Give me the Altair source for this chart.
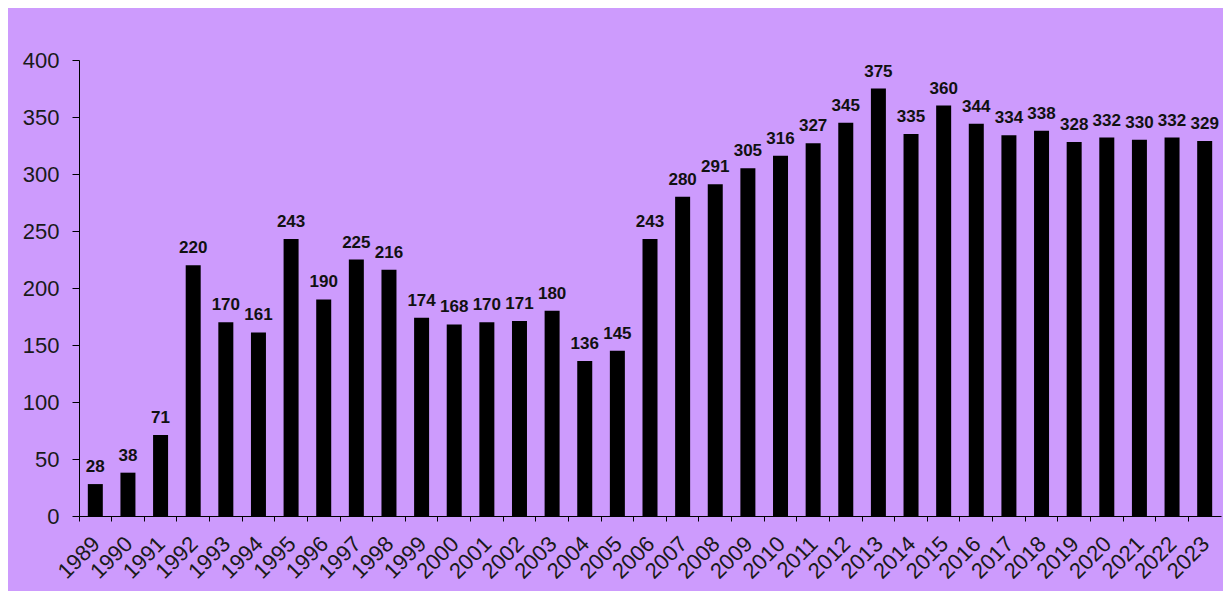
import altair as alt
import pandas as pd

years = [str(y) for y in range(1989, 2024)]
values = [28, 38, 71, 220, 170, 161, 243, 190, 225, 216, 174, 168, 170, 171, 180,
          136, 145, 243, 280, 291, 305, 316, 327, 345, 375, 335, 360, 344, 334, 338,
          328, 332, 330, 332, 329]
y_ticks = [0, 50, 100, 150, 200, 250, 300, 350, 400]

df = pd.DataFrame({"year": years, "value": values})

FONT = "Liberation Sans"

x = alt.X(
    "year:N",
    sort=years,
    title=None,
    scale=alt.Scale(paddingInner=0, paddingOuter=0),
    axis=alt.Axis(
        labelAngle=-45,
        labelFontSize=22,
        labelFont=FONT,
        labelColor="#1a1a1a",
        bandPosition=0,
        labelOffset=1,
        labelPadding=19,
        tickSize=5,
        tickColor="#000000",
        domainColor="#000000",
        labelAlign="right",
        labelBaseline="middle",
    ),
)

bars = alt.Chart(df).mark_bar(size=15, color="#000000").encode(
    x=x,
    y=alt.Y(
        "value:Q",
        title=None,
        scale=alt.Scale(domain=[0, 400], nice=False),
        axis=alt.Axis(
            values=y_ticks,
            grid=False,
            labelFontSize=22,
            labelFont=FONT,
            labelColor="#1a1a1a",
            tickSize=7,
            tickColor="#000000",
            domainColor="#000000",
            labelPadding=13,
        ),
    ),
)

labels = alt.Chart(df).mark_text(
    font=FONT,
    fontSize=17,
    fontWeight="bold",
    color="#111111",
    baseline="alphabetic",
    dy=-12,
).encode(
    x=alt.X("year:N", sort=years),
    y=alt.Y("value:Q"),
    text=alt.Text("value:Q"),
)

chart = (
    alt.layer(bars, labels)
    .properties(
        width=1142,
        height=456,
        autosize=alt.AutoSizeParams(type="none"),
        padding={"left": 71, "top": 52, "right": 2, "bottom": 75},
        background="#CD9BFD",
    )
    .configure_view(stroke=None)
)

chart.save("out.html", embed_options={"renderer": "svg", "actions": False})
